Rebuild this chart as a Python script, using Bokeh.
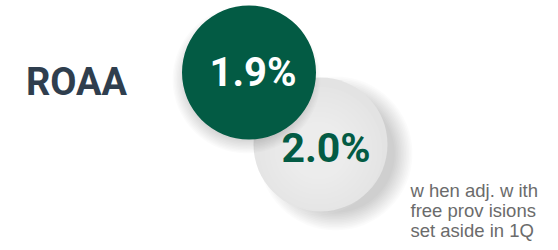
from bokeh.plotting import figure
from bokeh.models import Range1d
from bokeh.core.properties import value
from bokeh.embed import file_html
from bokeh.resources import INLINE

# ---- data ----
metric = ["ROAA"]
reported = ["1.9%"]
adjusted = ["2.0%"]
note_lines = ["w hen adj. w ith", "free prov isions", "set aside in 1Q"]

GREEN = "#035b44"
DARK = "#2f3e4e"
NOTE = "#6b6b6b"

W, H = 558, 250
p = figure(width=W, height=H, output_backend="svg", toolbar_location=None,
           x_range=Range1d(0, W), y_range=Range1d(H, 0),
           min_border=0, outline_line_color=None, background_fill_color="white",
           border_fill_color="white")
p.axis.visible = False
p.grid.visible = False

# soft drop shadow of the grey circle (to the lower right)
for k in range(12):
    p.circle(x=[335], y=[153], radius=77 - k * 1.6, fill_color="black",
             fill_alpha=0.016, line_color=None)
# grey circle with soft lighter centre
p.circle(x=[320], y=[144], radius=67, fill_color="#e3e3e3", line_color=None)
for k in range(8):
    p.circle(x=[318], y=[150], radius=64 - k * 5, fill_color="white",
             fill_alpha=0.07, line_color=None)

# soft shadow of the green circle
for k in range(12):
    p.circle(x=[246], y=[79], radius=74 - k * 1.4, fill_color="black",
             fill_alpha=0.014, line_color=None)
# green circle
p.circle(x=[248.5], y=[72], radius=67, fill_color=GREEN, line_color=None)

# texts (y chosen so the glyph baselines match the reference)
p.text(x=[76], y=[81], text=metric, text_font=value("Roboto"), text_font_style="bold",
       text_font_size="38px", text_color=DARK, text_align="center",
       text_baseline="alphabetic")
p.text(x=[252.5], y=[72], text=reported, text_font=value("Roboto"), text_font_style="bold",
       text_font_size="40px", text_color="white", text_align="center",
       text_baseline="alphabetic")
p.text(x=[325.5], y=[147], text=adjusted, text_font=value("Roboto"), text_font_style="bold",
       text_font_size="41px", text_color=GREEN, text_align="center",
       text_baseline="alphabetic")
p.text(x=[410] * 3, y=[189.5, 209.5, 229.5], text=note_lines,
       text_font=value("Liberation Sans"), text_font_size="18.5px", text_color=NOTE,
       text_align="left", text_baseline="alphabetic")

open("out.html", "w").write(file_html(p, INLINE))
